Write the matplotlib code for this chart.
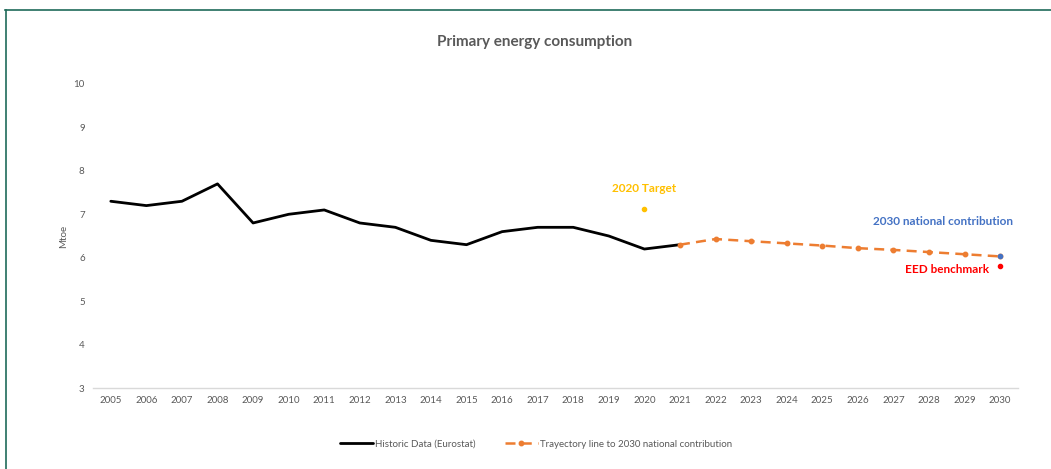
import matplotlib.pyplot as plt
from matplotlib.lines import Line2D

plt.rcParams["font.family"] = ["Lato", "DejaVu Sans"]

# ── data ─────────────────────────────────────────────────────────────
hist_years = list(range(2005, 2022))
hist_vals = [7.3, 7.2, 7.3, 7.7, 6.8, 7.0, 7.1, 6.8, 6.7, 6.4, 6.3,
             6.6, 6.7, 6.7, 6.5, 6.2, 6.3]

traj_years = list(range(2021, 2031))
traj_vals = [6.3, 6.43, 6.38, 6.33, 6.28, 6.22, 6.18, 6.13, 6.08, 6.03]

target_2020 = (2020, 7.12)
national_2030 = (2030, 6.05)
eed_2030 = (2030, 5.8)

tick_years = list(range(2005, 2031))
yticks = [3, 4, 5, 6, 7, 8, 9, 10]

GREY = "#595959"
ORANGE = "#ED7D31"
GOLD = "#FFC000"
BLUE = "#4472C4"
RED = "#FF0000"

# ── figure ───────────────────────────────────────────────────────────
fig = plt.figure(figsize=(10.51, 4.69), dpi=100)
ax = fig.add_axes([0.0885, 0.1727, 0.88, 0.6482])

# frame around the chart (top + left only)
fig.add_artist(Line2D([0.005, 1.0], [0.979, 0.979], transform=fig.transFigure,
                      color="#1f6b5a", lw=1.2))
fig.add_artist(Line2D([0.006, 0.006], [0.0, 0.979], transform=fig.transFigure,
                      color="#1f6b5a", lw=1.2))

ax.plot(hist_years, hist_vals, color="black", lw=2.0, solid_capstyle="round",
        label="Historic Data (Eurostat)", zorder=3)
ax.plot(traj_years, traj_vals, color=ORANGE, lw=1.8, ls=(0, (4, 2.5)),
        marker="o", ms=3.2, label="Trayectory line to 2030 national contribution",
        zorder=4)

ax.plot(*target_2020, "o", color=GOLD, ms=3, zorder=5)
ax.plot(*national_2030, "o", color=BLUE, ms=3, zorder=5)
ax.plot(*eed_2030, "o", color=RED, ms=3, zorder=5)

ax.text(2020, 7.6, "2020 Target", color=GOLD, fontsize=8.5, fontweight="bold",
        ha="center", va="center")
ax.text(2030.35, 6.84, "2030 national contribution", color=BLUE, fontsize=8.5,
        fontweight="bold", ha="right", va="center")
ax.text(2029.7, 5.72, "EED benchmark", color=RED, fontsize=8.5,
        fontweight="bold", ha="right", va="center")

ax.set_xlim(2004.5, 2030.5)
ax.set_ylim(3, 10)
ax.set_xticks(tick_years)
ax.set_xticklabels([str(y) for y in tick_years])
ax.set_yticks(yticks)
ax.tick_params(axis="both", length=0, labelsize=7, colors=GREY, pad=6)
for s in ["top", "right", "left"]:
    ax.spines[s].set_visible(False)
ax.spines["bottom"].set_color("#d9d9d9")
ax.spines["bottom"].set_linewidth(1.0)

ax.set_ylabel("Mtoe", fontsize=7, color=GREY, labelpad=4)

fig.text(0.509, 0.91, "Primary energy consumption", ha="center", va="center",
         fontsize=11, fontweight="bold", color=GREY)

leg = fig.legend(loc="center", bbox_to_anchor=(0.51, 0.053), ncol=2,
                 frameon=False, fontsize=7, labelcolor=GREY, handlelength=3.4,
                 handletextpad=0.2, columnspacing=3.0)

fig.savefig("out.png", dpi=100, facecolor="white")
